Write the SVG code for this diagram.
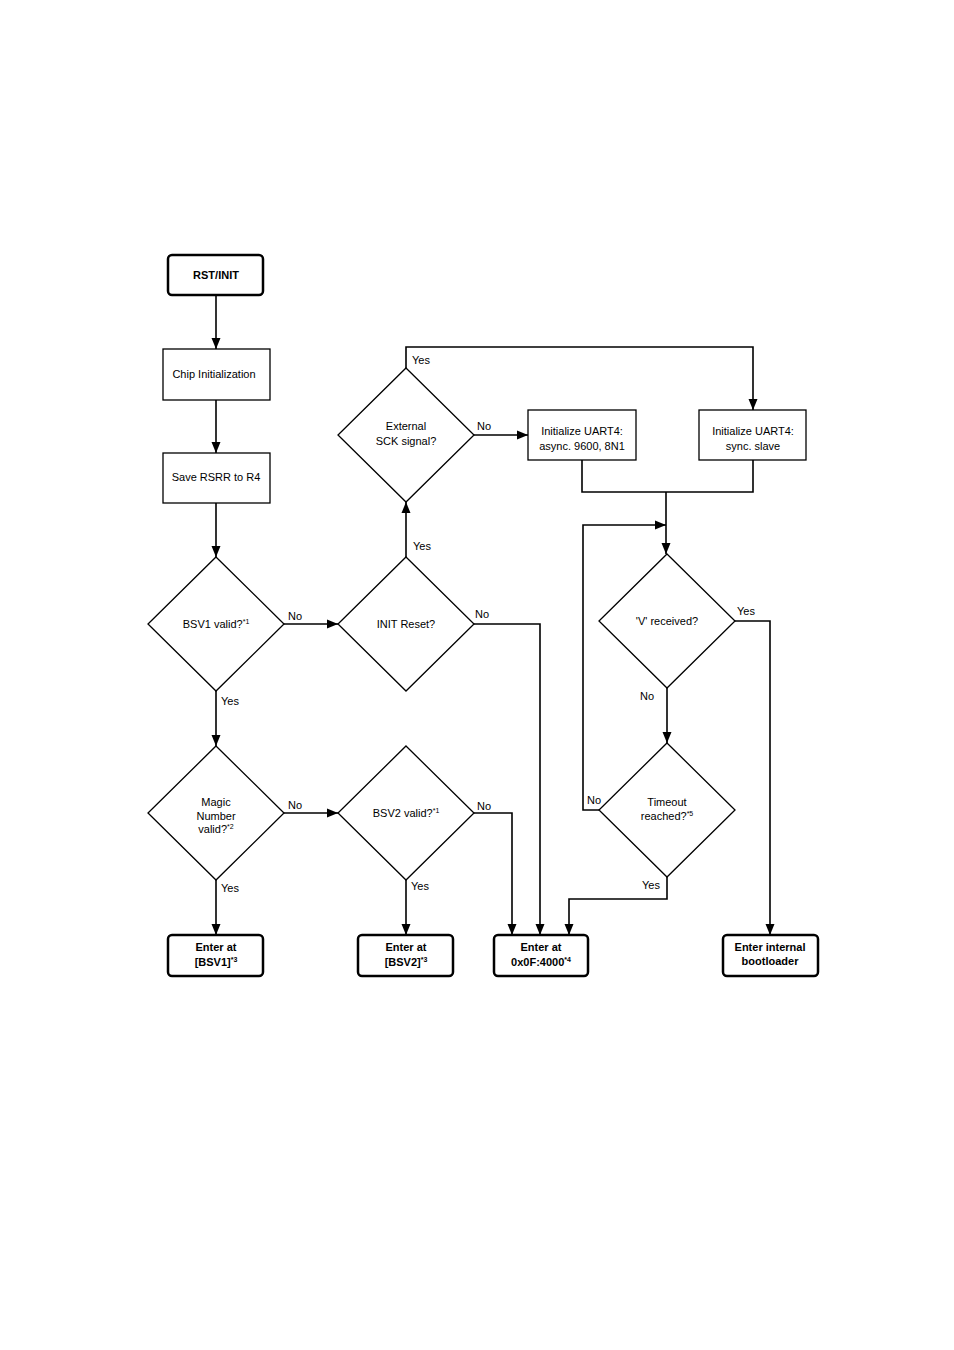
<svg xmlns="http://www.w3.org/2000/svg" width="954" height="1350" viewBox="0 0 954 1350">
<style>
.n{fill:#fff;stroke:#000;stroke-width:1.3}
.t{fill:#fff;stroke:#000;stroke-width:2.5}
.c{fill:none;stroke:#000;stroke-width:1.6}
text{font-family:"Liberation Sans",Arial,sans-serif;font-size:11px;fill:#000}
.m{text-anchor:middle}
.b{font-weight:bold}
.s{font-size:7px}
</style>
<defs>
<marker id="a" markerUnits="userSpaceOnUse" markerWidth="11" markerHeight="11" viewBox="0 0 11 11" refX="11" refY="5.5" orient="auto">
<path d="M0,1 L11,5.5 L0,10 Z" fill="#000"/>
</marker>
</defs>
<rect width="954" height="1350" fill="#fff"/>
<g id="connectors">
<path class="c" d="M216 295 V349" marker-end="url(#a)"/>
<path class="c" d="M216 400 V453" marker-end="url(#a)"/>
<path class="c" d="M216 503 V557" marker-end="url(#a)"/>
<path class="c" d="M284 624 H338" marker-end="url(#a)"/>
<path class="c" d="M216 691 V746" marker-end="url(#a)"/>
<path class="c" d="M406 557 V502" marker-end="url(#a)"/>
<path class="c" d="M474 624 H540 V935" marker-end="url(#a)"/>
<path class="c" d="M474 435 H528" marker-end="url(#a)"/>
<path class="c" d="M406 368 V347 H753 V410" marker-end="url(#a)"/>
<path class="c" d="M582 460 V492 H753 V460"/>
<path class="c" d="M666 492 V554" marker-end="url(#a)"/>
<path class="c" d="M735 621 H770 V935" marker-end="url(#a)"/>
<path class="c" d="M667 688 V743" marker-end="url(#a)"/>
<path class="c" d="M599 810 H583 V525 H666" marker-end="url(#a)"/>
<path class="c" d="M667 877 V899 H569 V935" marker-end="url(#a)"/>
<path class="c" d="M284 813 H338" marker-end="url(#a)"/>
<path class="c" d="M216 880 V935" marker-end="url(#a)"/>
<path class="c" d="M406 880 V935" marker-end="url(#a)"/>
<path class="c" d="M474 813 H512 V935" marker-end="url(#a)"/>
</g>
<g id="labels">
<text x="412" y="364">Yes</text>
<text x="477" y="430">No</text>
<text x="413" y="550">Yes</text>
<text x="288" y="620">No</text>
<text x="475" y="618">No</text>
<text x="221" y="705">Yes</text>
<text x="737" y="615">Yes</text>
<text x="640" y="700">No</text>
<text x="288" y="809">No</text>
<text x="477" y="810">No</text>
<text x="587" y="804">No</text>
<text x="221" y="892">Yes</text>
<text x="411" y="890">Yes</text>
<text x="642" y="889">Yes</text>
</g>
<g id="rst">
<rect class="t" x="168" y="255" width="95" height="40" rx="4"/>
<text class="m b" x="216" y="279">RST/INIT</text>
</g>
<g id="chip">
<rect class="n" x="163" y="349" width="107" height="51"/>
<text class="m" x="214" y="378">Chip Initialization</text>
</g>
<g id="save">
<rect class="n" x="163" y="453" width="107" height="50"/>
<text class="m" x="216" y="481">Save RSRR to R4</text>
</g>
<g id="bsv1">
<polygon class="n" points="216,557 284,624 216,691 148,624"/>
<text class="m" x="216" y="628">BSV1 valid?<tspan class="s" dy="-4">*1</tspan></text>
</g>
<g id="initreset">
<polygon class="n" points="406,557 474,624 406,691 338,624"/>
<text class="m" x="406" y="628">INIT Reset?</text>
</g>
<g id="extsck">
<polygon class="n" points="406,368 474,435 406,502 338,435"/>
<text class="m" x="406" y="430">External</text>
<text class="m" x="406" y="445">SCK signal?</text>
</g>
<g id="uartasync">
<rect class="n" x="528" y="410" width="108" height="50"/>
<text class="m" x="582" y="435">Initialize UART4:</text>
<text class="m" x="582" y="450">async. 9600, 8N1</text>
</g>
<g id="uartsync">
<rect class="n" x="699" y="410" width="107" height="50"/>
<text class="m" x="753" y="435">Initialize UART4:</text>
<text class="m" x="753" y="450">sync. slave</text>
</g>
<g id="vrecv">
<polygon class="n" points="667,554 735,621 667,688 599,621"/>
<text class="m" x="667" y="625">'V' received?</text>
</g>
<g id="timeout">
<polygon class="n" points="667,743 735,810 667,877 599,810"/>
<text class="m" x="667" y="806">Timeout</text>
<text class="m" x="667" y="820">reached?<tspan class="s" dy="-4">*5</tspan></text>
</g>
<g id="magic">
<polygon class="n" points="216,746 284,813 216,880 148,813"/>
<text class="m" x="216" y="806">Magic</text>
<text class="m" x="216" y="820">Number</text>
<text class="m" x="216" y="833">valid?<tspan class="s" dy="-4">*2</tspan></text>
</g>
<g id="bsv2">
<polygon class="n" points="406,746 474,813 406,880 338,813"/>
<text class="m" x="406" y="817">BSV2 valid?<tspan class="s" dy="-4">*1</tspan></text>
</g>
<g id="enterbsv1">
<rect class="t" x="168" y="935" width="95" height="41" rx="4"/>
<text class="m b" x="216" y="951">Enter at</text>
<text class="m b" x="216" y="966">[BSV1]<tspan class="s" dy="-4">*3</tspan></text>
</g>
<g id="enterbsv2">
<rect class="t" x="358" y="935" width="95" height="41" rx="4"/>
<text class="m b" x="406" y="951">Enter at</text>
<text class="m b" x="406" y="966">[BSV2]<tspan class="s" dy="-4">*3</tspan></text>
</g>
<g id="enter4000">
<rect class="t" x="494" y="935" width="94" height="41" rx="4"/>
<text class="m b" x="541" y="951">Enter at</text>
<text class="m b" x="541" y="966">0x0F:4000<tspan class="s" dy="-4">*4</tspan></text>
</g>
<g id="enterboot">
<rect class="t" x="723" y="935" width="95" height="41" rx="4"/>
<text class="m b" x="770" y="951">Enter internal</text>
<text class="m b" x="770" y="965">bootloader</text>
</g>
</svg>
